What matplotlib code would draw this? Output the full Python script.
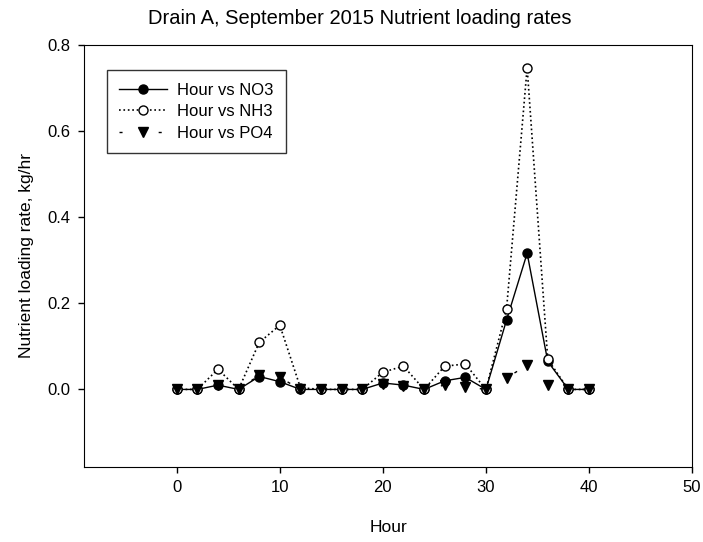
import numpy as np
import matplotlib
matplotlib.use('Agg')
import matplotlib.pyplot as plt

plt.rcParams['font.family'] = ['Liberation Sans', 'DejaVu Sans']

# Hourly loading rates, kg/hr
hours = [0, 2, 4, 6, 8, 10, 12, 14, 16, 18, 20, 22, 24, 26, 28, 30, 32, 34, 36, 38, 40]
no3 = [0.0, 0.0, 0.01, 0.0, 0.03, 0.018, 0.0, 0.0, 0.0, 0.0, 0.015, 0.01, 0.0,
       0.02, 0.028, 0.0, 0.161, 0.316, 0.065, 0.0, 0.0]
nh3 = [0.0, 0.0, 0.047, 0.0, 0.109, 0.149, 0.004, 0.0, 0.0, 0.0, 0.040, 0.054, 0.0,
       0.054, 0.059, 0.0, 0.186, 0.747, 0.070, 0.0, 0.0]
po4 = [0.0, 0.0, 0.01, 0.0, 0.033, 0.028, 0.0, 0.0, 0.0, 0.0, 0.012, 0.008, 0.0,
       0.01, 0.006, 0.0, 0.027, 0.056, 0.01, 0.0, 0.0]

fig = plt.figure(figsize=(7.03, 5.42), dpi=100)
ax = fig.add_axes([0.1195, 0.1384, 0.8649, 0.7791])

ax.plot(hours, no3, color='black', lw=1, linestyle='-', marker='o', ms=6.5,
        mfc='black', mec='black', label='Hour vs NO3')
ax.plot(hours, nh3, color='black', lw=1.2, linestyle=':', marker='o', ms=6.5,
        mfc='white', mec='black', label='Hour vs NH3')
ax.plot(hours, po4, color='black', lw=1, linestyle=(0, (2.2, 26)), marker='v', ms=7.5,
        mfc='black', mec='black', label='Hour vs PO4')

ax.set_xlim(-9, 50)
ax.set_ylim(-0.18, 0.8)
ax.set_xticks(np.arange(0, 51, 10))
ax.set_yticks(np.arange(0, 0.81, 0.2))
ax.set_yticklabels(['0.0', '0.2', '0.4', '0.6', '0.8'])
ax.tick_params(direction='out', length=4.5, width=1, labelsize=12, pad=5)

fig.text(360 / 703, 1 - 19 / 542, 'Drain A, September 2015 Nutrient loading rates',
         fontsize=14.5, ha='center', va='center')
ax.set_xlabel('Hour', fontsize=12.5)
ax.xaxis.set_label_coords(0.5, -0.125)
ax.set_ylabel('Nutrient loading rate, kg/hr', fontsize=12.5, labelpad=10)

leg = ax.legend(loc='upper left', bbox_to_anchor=(0.037, 0.94), fontsize=12,
                frameon=True, fancybox=False, edgecolor='black', handlelength=2.9,
                handletextpad=0.6, borderpad=0.75, labelspacing=0.4, borderaxespad=0)
leg.get_frame().set_linewidth(1)

plt.savefig('out.png', dpi=100)
